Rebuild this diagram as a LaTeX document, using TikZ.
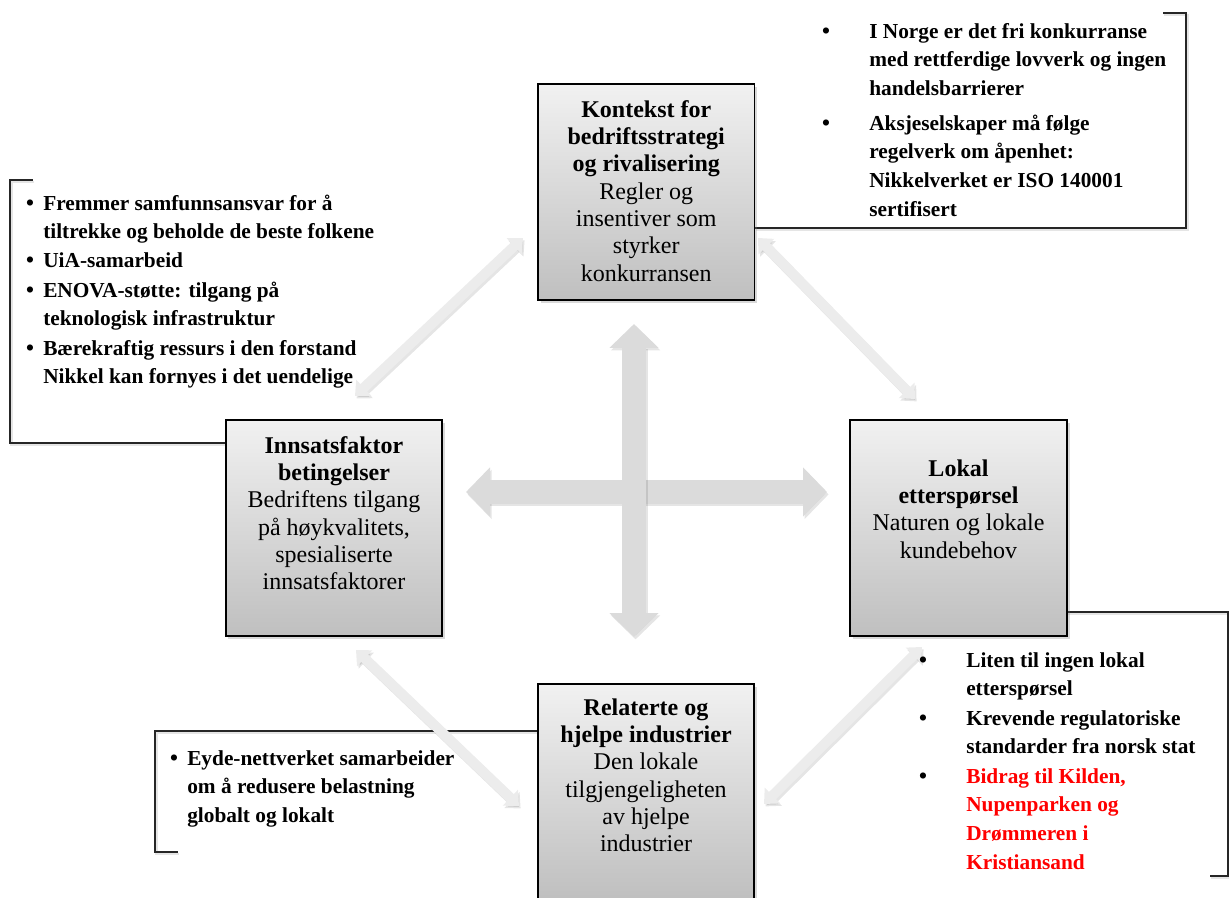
\documentclass[tikz,border=0pt]{standalone}
\usepackage{fontspec}
\setmainfont{Liberation Serif}
\usetikzlibrary{arrows.meta,shadows,calc}
\begin{document}
\begin{tikzpicture}[x=0.75pt,y=-0.75pt,
  box/.style={draw=black, line width=1.3pt, top color=gray!11, bottom color=gray!50,
    minimum width=162.5pt, minimum height=162pt, inner sep=0pt,
    drop shadow={shadow xshift=2pt, shadow yshift=-2.5pt, opacity=0.3}},
  boxtext/.style={align=center, inner sep=0pt, anchor=north, font=\fontsize{18pt}{20.5pt}\selectfont},
  btext/.style={align=left, inner sep=0pt, anchor=north west, font=\fontsize{16pt}{21.5pt}\selectfont\bfseries},
  bul/.style={inner sep=0pt, anchor=north, font=\fontsize{17pt}{21.5pt}\selectfont\bfseries},
  bracket/.style={draw=black!85, line width=0.9pt},
  bshadow/.style={draw=black!10, line width=2pt, transform canvas={shift={(1pt,-1.5pt)}}},
  bigarrow/.style={line width=18pt, draw=gray!28, {Triangle[width=36pt,length=18pt]}-{Triangle[width=36pt,length=18pt]}},
  thinarrow/.style={line width=7.5pt, draw=gray!15, {Triangle[width=16pt,length=9pt]}-{Triangle[width=16pt,length=9pt]}},
  ashadow/.style={draw=black, opacity=0.1, transform canvas={shift={(1.2pt,-1.8pt)}}}
]
\useasboundingbox (0,0) rectangle (1229,898);

% bracket ends at the boxes
\coordinate (ctxE) at (754.5,228);
\coordinate (innW) at (226,443);
\coordinate (relW) at (538,731);
\coordinate (lokE) at (1067,612);

% brackets
\coordinate (trA) at (1163,13); \coordinate (trB) at (1186,13); \coordinate (trC) at (1186,228);
\coordinate (lA) at (33,180); \coordinate (lB) at (10,180); \coordinate (lC) at (10,443);
\coordinate (blA) at (155,731); \coordinate (blB) at (155,852); \coordinate (blC) at (178,852);
\coordinate (rA) at (1228,612); \coordinate (rB) at (1228,876); \coordinate (rC) at (1210,876);
\foreach \s in {bshadow,bracket}{
  \draw[\s] (trA) -- (trB) -- (trC) -- (ctxE);
  \draw[\s] (lA) -- (lB) -- (lC) -- (innW);
  \draw[\s] (relW) -- (blA) -- (blB) -- (blC);
  \draw[\s] (lokE) -- (rA) -- (rB) -- (rC);
}

% diagonal arrows
\coordinate (d1a) at (523,238); \coordinate (d1b) at (355,396);
\coordinate (d2a) at (758,238); \coordinate (d2b) at (915,399);
\coordinate (d3a) at (356,650); \coordinate (d3b) at (519,806);
\coordinate (d4a) at (922,647); \coordinate (d4b) at (764,804);
\foreach \p/\q in {d1a/d1b,d2a/d2b,d3a/d3b,d4a/d4b}{
  \draw[thinarrow,ashadow] (\p) -- (\q);
  \draw[thinarrow] (\p) -- (\q);
}

% central arrows
\coordinate (hL) at (466,492); \coordinate (hR) at (827,492);
\coordinate (vT) at (634,324); \coordinate (vB) at (634,637);
\draw[bigarrow,ashadow] (hL) -- (hR);
\draw[bigarrow] (hL) -- (hR);
\draw[bigarrow,ashadow] (vT) -- (vB);
\draw[bigarrow] (vT) -- (vB);

% boxes
\node[box] (ctx) at (646.25,192) {};
\node[box] (inn) at (334,528) {};
\node[box] (lok) at (958.5,528) {};
\node[box] (rel) at (646,792) {};

\node[boxtext] (ctxT) at (646.25,97.9) {\strut\textbf{Kontekst for}\\\textbf{bedriftsstrategi}\\\textbf{og rivalisering}\\Regler og\\insentiver som\\styrker\\konkurransen};
\node[boxtext] (innT) at (334,433.9) {\strut\textbf{Innsatsfaktor}\\\textbf{betingelser}\\Bedriftens tilgang\\på høykvalitets,\\spesialiserte\\innsatsfaktorer};
\node[boxtext] (lokT) at (958.5,456.9) {\strut\textbf{Lokal}\\\textbf{etterspørsel}\\Naturen og lokale\\kundebehov};
\node[boxtext] (relT) at (646,695.9) {\strut\textbf{Relaterte og}\\\textbf{hjelpe industrier}\\Den lokale\\tilgjengeligheten\\av hjelpe\\industrier};

% top-right list
\node[btext] (tr1) at (869,17.9) {\strut I Norge er det fri konkurranse\\med rettferdige lovverk og ingen\\handelsbarrierer};
\node[bul] (tr1b) at (826,17.9) {\strut\textbullet};
\node[btext] (tr2) at (869,109.9) {\strut Aksjeselskaper må følge\\regelverk om åpenhet:\\Nikkelverket er ISO 140001\\sertifisert};
\node[bul] (tr2b) at (826,109.9) {\strut\textbullet};

% left list
\node[btext] (l1) at (43,189.9) {\strut Fremmer samfunnsansvar for å\\tiltrekke og beholde de beste folkene};
\node[bul] (l1b) at (30,189.9) {\strut\textbullet};
\node[btext] (l2) at (43,246.9) {\strut UiA-samarbeid};
\node[bul] (l2b) at (30,246.9) {\strut\textbullet};
\node[btext] (l3) at (43,276.9) {\strut ENOVA-støtte: tilgang på\\teknologisk infrastruktur};
\node[bul] (l3b) at (30,276.9) {\strut\textbullet};
\node[btext] (l4) at (43,334.9) {\strut Bærekraftig ressurs i den forstand\\Nikkel kan fornyes i det uendelige};
\node[bul] (l4b) at (30,334.9) {\strut\textbullet};

% bottom-left list
\node[btext] (bl1) at (187,744.9) {\strut Eyde-nettverket samarbeider\\om å redusere belastning\\globalt og lokalt};
\node[bul] (bl1b) at (174,744.9) {\strut\textbullet};

% right list
\node[btext] (r1) at (966,646.9) {\strut Liten til ingen lokal\\etterspørsel};
\node[bul] (r1b) at (923,646.9) {\strut\textbullet};
\node[btext] (r2) at (966,704.9) {\strut Krevende regulatoriske\\standarder fra norsk stat};
\node[bul] (r2b) at (923,704.9) {\strut\textbullet};
\node[btext,text=red] (r3) at (966,762.9) {\strut Bidrag til Kilden,\\Nupenparken og\\Drømmeren i\\Kristiansand};
\node[bul] (r3b) at (923,762.9) {\strut\textbullet};
\end{tikzpicture}
\end{document}
